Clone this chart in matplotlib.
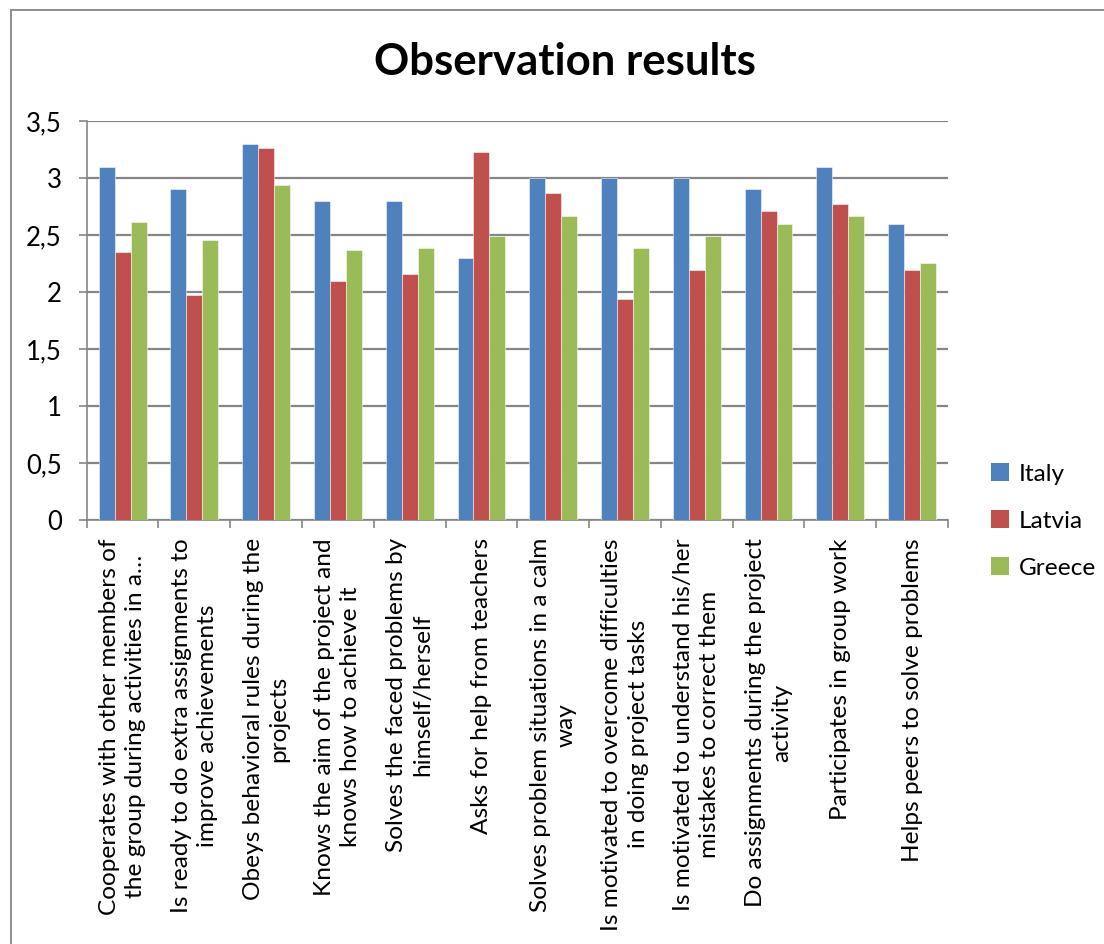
import matplotlib
matplotlib.use("Agg")
import matplotlib.pyplot as plt
import numpy as np
from matplotlib.lines import Line2D
from matplotlib.patches import Patch
from matplotlib.ticker import FuncFormatter

plt.rcParams['font.family'] = ['Lato', 'DejaVu Sans']

categories = [
    "Cooperates with other members of\nthe group during activities in a…",
    "Is ready to do extra assignments to\nimprove achievements",
    "Obeys behavioral rules during the\nprojects",
    "Knows the aim of the project and\nknows how to achieve it",
    "Solves the faced problems by\nhimself/herself",
    "Asks for help from teachers",
    "Solves problem situations in a calm\nway",
    "Is motivated to overcome difficulties\nin doing project tasks",
    "Is motivated to understand his/her\nmistakes to correct them",
    "Do assignments during the project\nactivity",
    "Participates in group work",
    "Helps peers to solve problems",
]
italy = [3.10, 2.90, 3.30, 2.80, 2.80, 2.30, 3.00, 3.00, 3.00, 2.90, 3.10, 2.60]
latvia = [2.35, 1.97, 3.26, 2.10, 2.16, 3.23, 2.87, 1.94, 2.19, 2.71, 2.77, 2.19]
greece = [2.61, 2.46, 2.94, 2.37, 2.39, 2.49, 2.67, 2.39, 2.49, 2.60, 2.67, 2.25]
series_names = ["Italy", "Latvia", "Greece"]
colors = ["#4F81BD", "#C0504D", "#9BBB59"]
yticks = [0, 0.5, 1, 1.5, 2, 2.5, 3, 3.5]

W, H = 1104, 944
fig = plt.figure(figsize=(W / 100, H / 100), dpi=100)
ax = fig.add_axes([86.7 / W, 1 - 520 / H, (948 - 86.7) / W, (520 - 121) / H])

x = np.arange(len(categories))
bw = 1 / 4.5
for i, (vals, c) in enumerate(zip([italy, latvia, greece], colors)):
    ax.bar(x + (i - 1) * bw, vals, width=bw, color=c, edgecolor=(1, 1, 1, 0.6),
           linewidth=0.6, zorder=3)

ax.set_xlim(-0.5, len(categories) - 0.5)
ax.set_ylim(0, 3.5)
ax.set_yticks(yticks)
ax.yaxis.set_major_formatter(FuncFormatter(lambda v, p: f"{v:g}".replace(".", ",")))
ax.yaxis.grid(True, color="#868686", linewidth=1.6, zorder=0)
ax.set_axisbelow(True)

# category labels centred under each group, boundaries marked by ticks
ax.set_xticks(np.arange(-0.5, len(categories), 1))
ax.set_xticklabels([])
ax.set_xticks(x, minor=True)
ax.set_xticklabels(categories, minor=True, rotation=90, ha="center", va="top",
                   multialignment="center", fontsize=17.6, linespacing=1.3)
ax.tick_params(axis="x", which="minor", length=0, pad=13)
ax.tick_params(axis="x", which="major", length=6, width=1.2, color="#868686")
ax.tick_params(axis="y", length=6, width=1.2, color="#868686", labelsize=18.5, pad=12)

for s in ["top", "right"]:
    ax.spines[s].set_visible(False)
for s in ["left", "bottom"]:
    ax.spines[s].set_color("#868686")
    ax.spines[s].set_linewidth(1.2)

fig.text(565 / W, 1 - 62 / H, "Observation results", ha="center", va="center",
         fontsize=31.5, fontweight="bold")

handles = [Patch(facecolor=c, edgecolor="none") for c in colors]
fig.legend(handles, series_names, loc="center left", bbox_to_anchor=(969 / W, 1 - 521 / H),
           frameon=False, fontsize=17.6, handlelength=0.75, handleheight=0.75,
           handletextpad=0.4, labelspacing=1.05)

# outer chart border
fig.add_artist(Line2D([11 / W, 11 / W], [0, 1 - 10 / H], color="#8c8c8c", linewidth=1.4,
                      transform=fig.transFigure))
fig.add_artist(Line2D([11 / W, 1], [1 - 10 / H, 1 - 10 / H], color="#8c8c8c", linewidth=1.4,
                      transform=fig.transFigure))

fig.savefig("out.png", dpi=100)
